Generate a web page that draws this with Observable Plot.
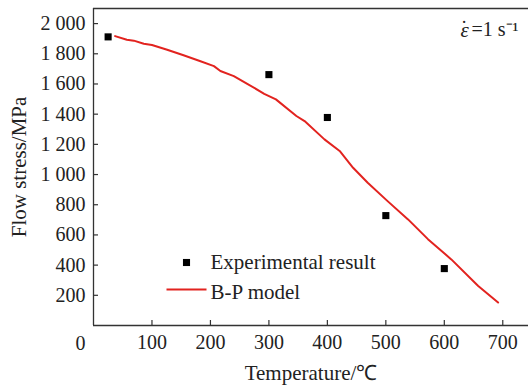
<!DOCTYPE html>
<html>
<head>
<meta charset="utf-8">
<script src="https://cdn.jsdelivr.net/npm/d3@7"></script>
<script src="https://cdn.jsdelivr.net/npm/@observablehq/plot@0.6"></script>
<style>
  html, body { margin: 0; padding: 0; background: #fff; }
  #chart svg { display: block; }
</style>
</head>
<body>
<div id="chart"></div>
<script>
// Experimental results (temperature °C, flow stress MPa)
const expTemp = [25, 300, 400, 500, 600];
const expStress = [1912, 1662, 1378, 728, 377];

// B-P model curve
const modelTemp = [37, 57, 69, 86, 100, 126, 154, 183, 206, 217, 240, 263, 292, 312, 347, 361, 395, 421, 444, 469, 503, 538, 572, 612, 658, 692];
const modelStress = [1917, 1893, 1887, 1867, 1858, 1827, 1790, 1751, 1718, 1686, 1652, 1601, 1535, 1498, 1388, 1354, 1233, 1156, 1045, 946, 824, 703, 572, 438, 262, 152];

const xTicks = [100, 200, 300, 400, 500, 600, 700];
const yTicks = [200, 400, 600, 800, 1000, 1200, 1400, 1600, 1800, 2000];
const legendLabels = ["Experimental result", "B-P model"];
const xLabel = "Temperature/℃";
const yLabel = "Flow stress/MPa";
const annotationSymbol = "ε";
const annotationDot = "˙";
const annotationText = "=1 s⁻¹";

const expData = expTemp.map((t, i) => ({t, s: expStress[i]}));
const modelData = modelTemp.map((t, i) => ({t, s: modelStress[i]}));

const fmt = d => d3.format(",")(d).replace(/,/g, " ");
const axisColor = "#333";
const textColor = "#222";
const red = "#e2231f";
const serif = "Liberation Serif";

const lineSymbol = {
  draw(context) { context.moveTo(-20, 0); context.lineTo(20, 0); }
};

const chart = Plot.plot({
  width: 528,
  height: 385,
  marginLeft: 93,
  marginRight: 0,
  marginTop: 8,
  marginBottom: 60,
  style: "font-family: 'Liberation Serif', serif; font-size: 20px; background: #fff;",
  x: { domain: [0, 744], axis: null },
  y: { domain: [0, 2100], axis: null },
  marks: [
    // frame lines (left, bottom, top)
    Plot.ruleX([0], { stroke: axisColor, strokeWidth: 1.3 }),
    Plot.ruleY([0], { stroke: axisColor, strokeWidth: 1.3 }),
    Plot.ruleY([2100], { stroke: axisColor, strokeWidth: 1.3 }),
    // inward ticks
    Plot.axisX(xTicks, { tickSize: 5, dy: -5, tickFormat: () => "", label: null, stroke: axisColor, strokeWidth: 1.2 }),
    Plot.axisY(yTicks, { tickSize: 5, dx: 5, tickFormat: () => "", label: null, stroke: axisColor, strokeWidth: 1.2 }),
    // tick labels
    Plot.axisX(xTicks, { tickSize: 0, tickPadding: 9, fill: textColor, fontSize: 20, fontFamily: serif, label: null }),
    Plot.axisY(yTicks, { tickSize: 0, tickPadding: 8, tickFormat: fmt, fill: textColor, fontSize: 20, fontFamily: serif, label: null }),
    Plot.text(["0"], { x: () => 0, y: () => 0, dx: -13, dy: 18, fill: textColor, fontSize: 20, fontFamily: serif }),
    // axis titles
    Plot.text([xLabel], { frameAnchor: "bottom", lineAnchor: "middle", dy: 48, fill: textColor, fontSize: 21, fontFamily: serif }),
    Plot.text([yLabel], { frameAnchor: "left", dx: -74, textAnchor: "middle", lineAnchor: "middle", rotate: -90, fill: textColor, fontSize: 21, fontFamily: serif }),
    // model curve
    Plot.line(modelData, { x: "t", y: "s", stroke: red, strokeWidth: 2, curve: "linear" }),
    // experimental points
    Plot.dot(expData, { x: "t", y: "s", symbol: "square", r: 4, fill: "#000", stroke: null }),
    // annotation
    Plot.text([annotationText], { frameAnchor: "top-right", lineAnchor: "middle", dx: -10, dy: 21.5, textAnchor: "end", fill: textColor, fontSize: 20, fontFamily: serif }),
    Plot.text([annotationSymbol], { frameAnchor: "top-right", lineAnchor: "middle", dx: -68, dy: 21.5, textAnchor: "start", fill: textColor, fontSize: 21, fontFamily: serif, fontStyle: "italic" }),
    Plot.text([annotationDot], { frameAnchor: "top-right", lineAnchor: "middle", dx: -64.5, dy: 20.5, textAnchor: "middle", fill: textColor, fontSize: 20, fontFamily: serif }),
    // legend
    Plot.dot([legendLabels[0]], { frameAnchor: "top-left", dx: 93, dy: 254, symbol: "square", r: 4, fill: "#000", stroke: null }),
    Plot.dot([legendLabels[1]], { frameAnchor: "top-left", dx: 93, dy: 281, symbol: lineSymbol, r: 4, stroke: red, strokeWidth: 2, fill: "none" }),
    Plot.text([legendLabels[0]], { frameAnchor: "top-left", lineAnchor: "middle", dx: 117, dy: 254, textAnchor: "start", fill: textColor, fontSize: 21, fontFamily: serif }),
    Plot.text([legendLabels[1]], { frameAnchor: "top-left", lineAnchor: "middle", dx: 117, dy: 283.5, textAnchor: "start", fill: textColor, fontSize: 21, fontFamily: serif })
  ]
});
document.getElementById("chart").appendChild(chart);
</script>
</body>
</html>
